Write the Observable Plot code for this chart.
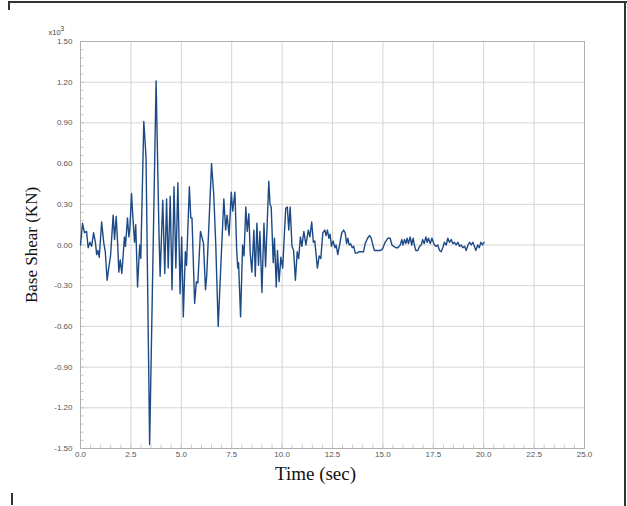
<!DOCTYPE html>
<html>
<head>
<meta charset="utf-8">
<script src="https://cdn.jsdelivr.net/npm/d3@7"></script>
<script src="https://cdn.jsdelivr.net/npm/@observablehq/plot@0.6"></script>
<style>
  html, body { margin: 0; padding: 0; background: #fff; }
  #wrap { position: relative; width: 627px; height: 506px; overflow: hidden; }
  #chart { position: absolute; left: 0; top: 0; }
  .bt { position: absolute; left: 8px; top: 1px; width: 619px; height: 0; border-top: 2px solid #333; }
  .bl { position: absolute; left: 8px; top: 1px; width: 0; height: 9px; border-left: 2px solid #333; }
  .br { position: absolute; left: 624px; top: 1px; width: 0; height: 505px; border-left: 2px solid #333; }
  .bb { position: absolute; left: 11px; top: 493px; width: 0; height: 12px; border-left: 2px solid #333; }
</style>
</head>
<body>
<div id="wrap">
  <div id="chart"></div>
  <div class="bt"></div><div class="bl"></div><div class="br"></div><div class="bb"></div>
</div>
<script>
// Time (sec)
const time = [
  0.00,0.10,0.20,0.30,0.38,0.47,0.55,0.65,0.74,0.80,0.86,0.93,1.05,1.15,1.23,1.32,1.41,1.49,1.62,1.69,
  1.77,1.84,1.90,1.97,2.05,2.18,2.23,2.33,2.40,2.45,2.53,2.60,2.68,2.74,2.83,2.90,2.94,2.99,3.14,3.25,
  3.43,3.75,3.89,3.95,4.08,4.18,4.27,4.35,4.45,4.54,4.64,4.73,4.83,4.94,5.02,5.10,5.20,5.26,5.40,5.47,
  5.53,5.66,5.75,5.82,5.95,6.04,6.10,6.20,6.26,6.50,6.61,6.71,6.83,6.95,7.02,7.11,7.20,7.27,7.37,7.48,
  7.55,7.66,7.75,7.80,7.84,7.94,8.04,8.11,8.20,8.27,8.35,8.42,8.50,8.60,8.67,8.75,8.83,8.90,9.00,9.10,
  9.18,9.34,9.40,9.46,9.56,9.62,9.71,9.77,9.85,9.94,10.03,10.12,10.18,10.26,10.33,10.40,10.49,10.57,10.66,10.75,
  10.82,10.91,10.98,11.08,11.18,11.30,11.38,11.47,11.55,11.62,11.75,11.84,11.92,12.02,12.12,12.18,12.25,12.32,12.38,12.45,
  12.53,12.62,12.68,12.76,12.85,12.96,13.05,13.13,13.20,13.26,13.33,13.40,13.48,13.55,13.63,13.72,13.80,13.90,14.04,14.12,
  14.24,14.34,14.42,14.52,14.58,14.68,14.78,14.88,14.98,15.11,15.25,15.36,15.45,15.54,15.64,15.74,15.86,15.94,16.00,16.07,
  16.14,16.20,16.27,16.35,16.43,16.50,16.56,16.63,16.73,16.82,16.90,16.97,17.05,17.13,17.20,17.26,17.35,17.43,17.50,17.56,
  17.64,17.72,17.81,17.89,17.97,18.05,18.14,18.22,18.30,18.39,18.47,18.55,18.63,18.72,18.80,18.88,18.96,19.05,19.13,19.22,
  19.30,19.38,19.46,19.54,19.61,19.70,19.78,19.86,19.94,20.02
];
// Base Shear (KN), in units of x10^3
const shear = [
  0.00,0.16,0.09,0.10,-0.02,0.02,-0.01,0.09,0.02,-0.07,-0.04,-0.09,0.17,0.02,-0.05,-0.26,-0.16,-0.08,0.22,0.04,
  0.21,0.02,-0.20,-0.11,-0.21,0.06,-0.01,0.20,0.06,0.12,0.38,0.20,0.02,0.15,-0.31,-0.10,0.00,-0.10,0.91,0.65,
  -1.47,1.21,0.11,-0.23,0.33,-0.21,0.34,-0.17,0.36,-0.33,0.43,-0.17,0.46,-0.36,0.06,-0.53,-0.05,-0.15,0.43,0.20,
  0.20,-0.43,-0.27,-0.28,0.10,0.05,0.01,-0.33,-0.23,0.60,0.37,0.00,-0.60,-0.19,0.04,0.34,0.11,0.22,0.07,0.39,
  0.25,0.39,-0.05,-0.17,-0.13,-0.53,0.00,-0.08,0.28,0.10,0.23,-0.06,-0.20,0.11,-0.23,0.16,-0.15,0.10,-0.35,0.16,
  -0.16,0.47,0.30,0.28,-0.13,0.05,-0.31,-0.04,-0.27,-0.09,-0.17,0.10,0.27,0.28,0.11,0.28,-0.01,-0.04,-0.26,-0.05,
  -0.10,0.06,-0.01,0.10,0.00,0.11,0.06,0.17,0.02,0.03,-0.17,-0.08,-0.10,0.09,0.11,0.07,0.11,0.05,0.08,-0.01,
  0.03,-0.02,0.00,-0.07,0.00,0.09,0.11,0.09,0.01,0.05,0.00,0.01,-0.02,-0.01,-0.06,-0.06,-0.05,-0.05,-0.05,0.01,
  0.05,0.07,0.05,-0.01,-0.04,-0.04,-0.04,-0.04,-0.03,0.02,0.05,0.05,0.00,-0.01,-0.02,-0.02,0.00,0.04,0.00,0.04,
  0.01,0.05,0.01,0.06,0.00,0.05,0.00,-0.04,-0.04,-0.01,0.00,0.04,0.01,0.06,0.02,0.05,0.01,0.05,0.02,0.00,
  -0.01,0.00,-0.04,-0.05,-0.02,0.02,0.00,0.05,0.02,0.04,0.01,0.02,0.00,0.02,-0.01,0.00,-0.02,-0.01,-0.04,0.00,
  0.02,0.00,0.02,-0.01,-0.04,0.00,-0.02,0.02,0.00,0.02
];
const xTicks = [0, 2.5, 5, 7.5, 10, 12.5, 15, 17.5, 20, 22.5, 25];
const yTicks = [-1.5, -1.2, -0.9, -0.6, -0.3, 0, 0.3, 0.6, 0.9, 1.2, 1.5];
const xMinor = d3.range(0, 25.001, 0.5);
const yMinor = d3.range(-1.5, 1.5001, 0.06);
const xLabel = "Time (sec)";
const yLabel = "Base Shear (KN)";
const scaleNote = "x10";
const scaleExp = "3";

const data = time.map((t, i) => ({t, v: shear[i]}));
const serif = "'Liberation Serif', 'Times New Roman', serif";

const chart = Plot.plot({
  width: 627,
  height: 506,
  marginLeft: 80,
  marginRight: 43,
  marginTop: 41,
  marginBottom: 58,
  style: {fontFamily: "'Liberation Sans', Arial, sans-serif", background: "transparent", overflow: "visible"},
  x: {domain: [0, 25]},
  y: {domain: [-1.5, 1.5]},
  marks: [
    Plot.ruleX(xTicks, {stroke: "#d4d4d4", strokeWidth: 1}),
    Plot.ruleY(yTicks, {stroke: "#d4d4d4", strokeWidth: 1}),
    Plot.ruleY(yMinor, {x1: 0, x2: 0.18, stroke: "#bbb", strokeWidth: 0.8}),
    Plot.ruleX(xMinor, {y1: -1.5, y2: -1.475, stroke: "#bbb", strokeWidth: 0.8}),
    Plot.frame({stroke: "#b0b0b0", strokeWidth: 1}),
    Plot.axisX(xTicks, {tickSize: 0, tickPadding: 3, fontSize: 8, fill: "#555", tickFormat: d => d.toFixed(1), label: null}),
    Plot.axisY(yTicks, {tickSize: 0, tickPadding: 8, fontSize: 8, fill: "#555", tickFormat: d => d.toFixed(2), label: null}),
    Plot.line(data, {x: "t", y: "v", stroke: "#1d4a85", strokeWidth: 1.4}),
    Plot.text([xLabel], {frameAnchor: "bottom", dx: -17, dy: 31, fontSize: 19, fontFamily: serif, fill: "#111", textAnchor: "middle", text: d => d}),
    Plot.text([yLabel], {frameAnchor: "left", dx: -49, rotate: -90, fontSize: 17, fontFamily: serif, fill: "#111", textAnchor: "middle", text: d => d}),
    Plot.text([scaleNote], {frameAnchor: "top-left", dx: -32, dy: -12, fontSize: 7.5, fill: "#444", textAnchor: "start", text: d => d}),
    Plot.text([scaleExp], {frameAnchor: "top-left", dx: -20, dy: -15, fontSize: 6.5, fill: "#444", textAnchor: "start", text: d => d})
  ]
});
document.getElementById("chart").appendChild(chart);
</script>
</body>
</html>
